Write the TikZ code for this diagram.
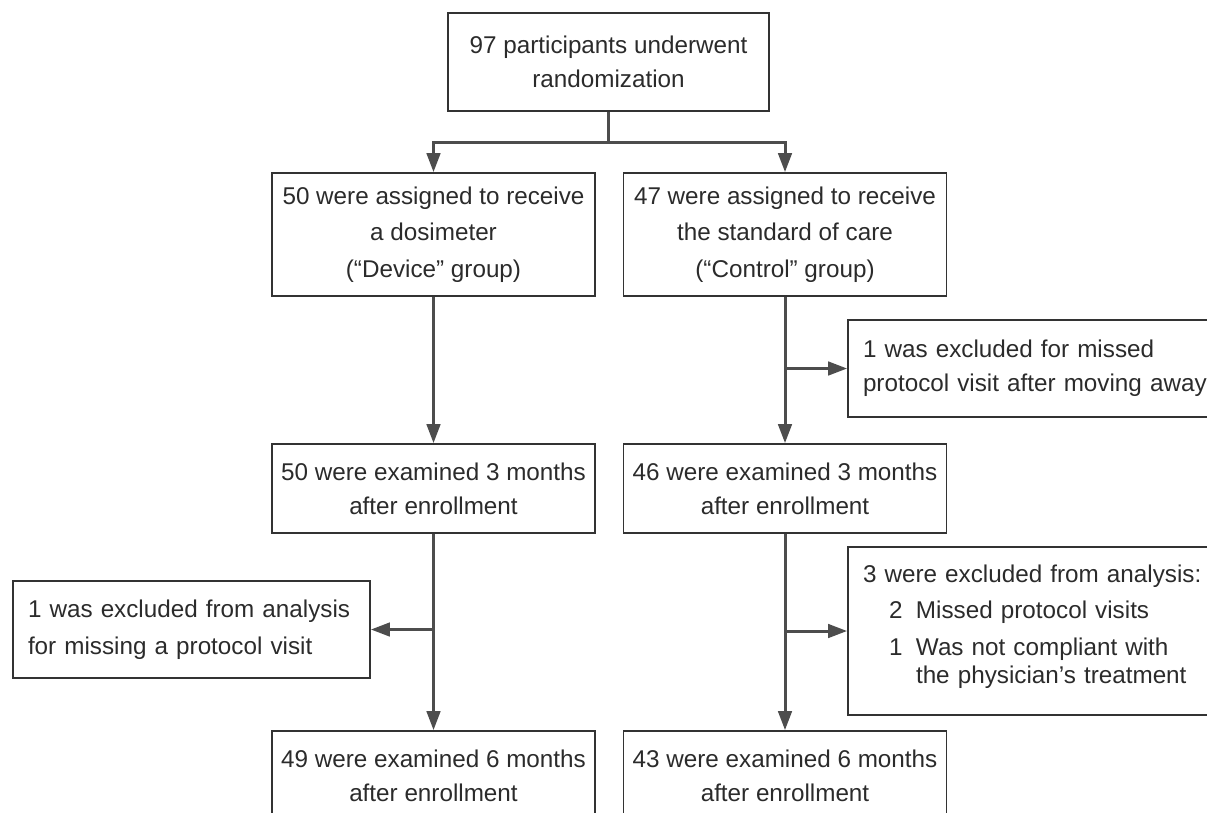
\documentclass[tikz,border=0pt]{standalone}
\usepackage{fontspec}
\setmainfont{Liberation Sans}
\usetikzlibrary{calc,arrows.meta}
\definecolor{boxline}{HTML}{333333}
\definecolor{arrline}{HTML}{4D4D4D}
\definecolor{txt}{HTML}{2B2B2B}

\begin{document}
\begin{tikzpicture}[
  box/.style={draw=boxline,line width=1pt,text=txt,align=center,inner sep=0pt,
    font=\fontsize{13.8}{19.3}\selectfont},
  side/.style={box,align=left,inner xsep=0.3cm,text width=7.4cm,minimum height=1.94cm},
  ln/.style={draw=arrline,line width=1.7pt},
  arr/.style={ln,-{Triangle[length=0.38cm,width=0.27cm]}}]
  \useasboundingbox (0,0) rectangle (24.14,-16.24);
  \clip (0,0) rectangle (24.14,-16.24);

  \node (top) at (12.17,-1.24) [box,minimum width=6.42cm,minimum height=1.96cm]
    {97 participants underwent\\randomization};

  \node (dev) at (8.67,-4.69) [box,minimum width=6.46cm,minimum height=2.46cm]
    {50 were assigned to receive\\[1.5pt]a dosimeter\\[1.5pt](“Device” group)};
  \node (ctl) at (15.70,-4.69) [box,minimum width=6.46cm,minimum height=2.46cm]
    {47 were assigned to receive\\[1.5pt]the standard of care\\[1.5pt](“Control” group)};

  \node (exA) at (20.96,-7.37) [side]
    {1 was excluded for missed\\protocol visit after moving away};

  \node (dev3) at (8.67,-9.77) [box,minimum width=6.46cm,minimum height=1.78cm]
    {50 were examined 3 months\\after enrollment};
  \node (ctl3) at (15.70,-9.77) [box,minimum width=6.46cm,minimum height=1.78cm]
    {46 were examined 3 months\\after enrollment};

  \node (exB) at (3.83,-12.59) [side,text width=6.54cm]
    {1 was excluded from analysis\\[1.5pt]for missing a protocol visit};
  \node (exC) at (20.96,-12.62) [side,minimum height=3.36cm]
    {3 were excluded from analysis:\\[1pt]
     \hspace*{0.52cm}\makebox[0.27cm][r]{2}\hspace{0.27cm}Missed protocol visits\\[1.7pt]
     \hspace*{0.52cm}\makebox[0.27cm][r]{1}\hspace{0.27cm}Was not compliant with\\[-3.4pt]
     \hspace*{1.06cm}the physician’s treatment\\[-11.4pt]\mbox{}};

  \node (dev6) at (8.67,-15.51) [box,minimum width=6.46cm,minimum height=1.78cm]
    {49 were examined 6 months\\after enrollment};
  \node (ctl6) at (15.70,-15.51) [box,minimum width=6.46cm,minimum height=1.78cm]
    {43 were examined 6 months\\after enrollment};

  \draw[ln] (top.south) -- ++(0,-0.62) coordinate (split);
  \draw[arr] (split) -| (dev.north);
  \draw[arr] (split) -| (ctl.north);

  \draw[arr] (dev.south) -- (dev3.north);
  \draw[arr] (ctl.south) -- (ctl3.north);
  \coordinate (jA) at (ctl.south |- exA.west);
  \draw[arr] (jA) -- (exA.west);

  \draw[arr] (dev3.south) -- (dev6.north);
  \draw[arr] (ctl3.south) -- (ctl6.north);
  \coordinate (jB) at (dev3.south |- exB.east);
  \draw[arr] (jB) -- (exB.east);
  \coordinate (jC) at (ctl3.south |- exC.west);
  \draw[arr] (jC) -- (exC.west);

\end{tikzpicture}
\end{document}
